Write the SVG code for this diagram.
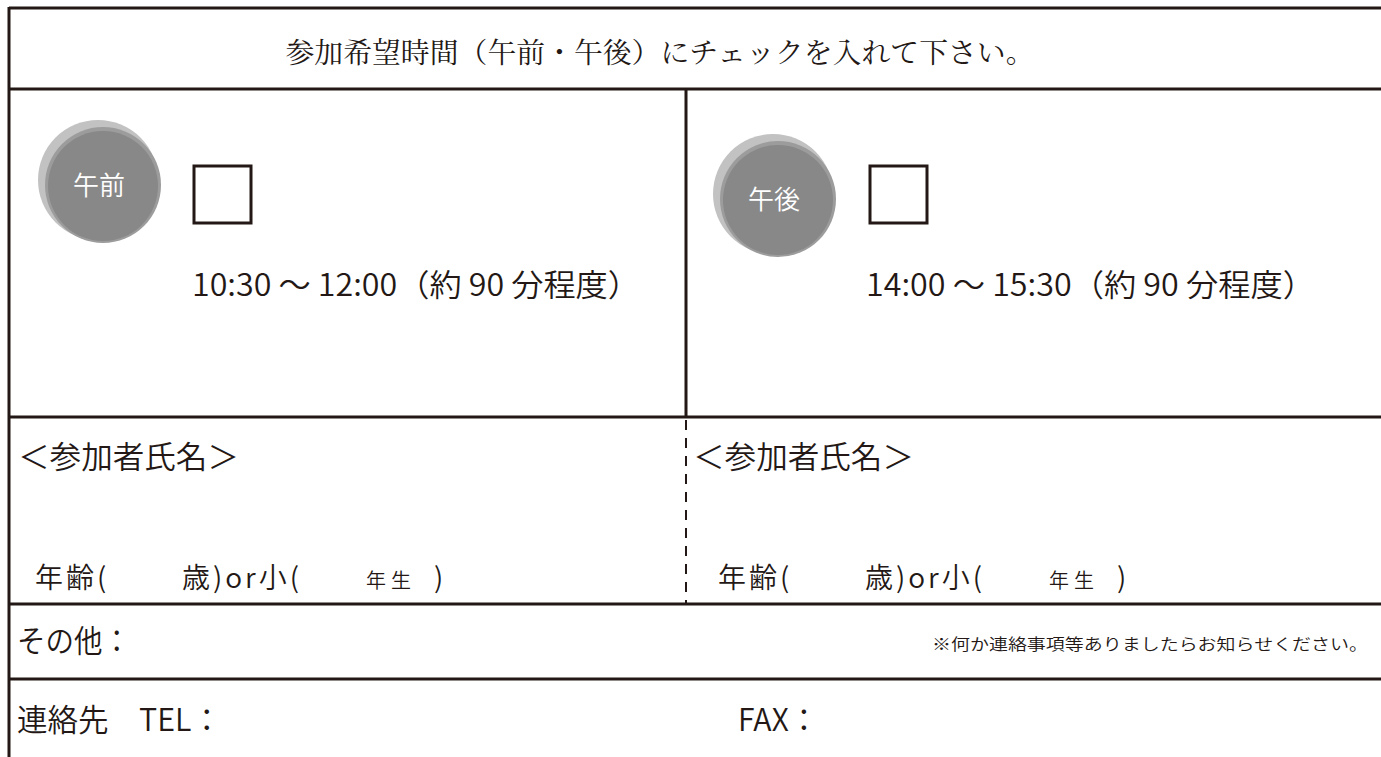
<svg xmlns="http://www.w3.org/2000/svg" width="1381" height="757" viewBox="0 0 1381 757">
<style>
.ln{stroke:#231815;stroke-width:3;fill:none}
.t{font-family:"Noto Sans CJK JP","Noto Sans",sans-serif;font-weight:350;fill:#231815}
.m{font-family:"Liberation Serif","Noto Serif CJK JP","Noto Sans CJK JP",serif;fill:#231815}
.cb{fill:#fff;stroke:#231815;stroke-width:3}
.lab{font-family:"Noto Sans CJK JP",sans-serif;font-weight:350;fill:#fff;font-size:26px;text-anchor:middle}
</style>
<rect width="1381" height="757" fill="#fff"/>
<g id="connectors">
<line class="ln" x1="9" y1="8" x2="1381" y2="8"/>
<line class="ln" x1="9" y1="7" x2="9" y2="757"/>
<line class="ln" x1="9" y1="89" x2="1381" y2="89"/>
<line class="ln" x1="9" y1="417" x2="1381" y2="417"/>
<line class="ln" x1="9" y1="604" x2="1381" y2="604"/>
<line class="ln" x1="9" y1="679" x2="1381" y2="679"/>
<line class="ln" x1="686" y1="89" x2="686" y2="417"/>
<line x1="686" y1="420" x2="686" y2="604" stroke="#231815" stroke-width="2" stroke-dasharray="10 8"/>
</g>
<g id="title"><text class="m" x="660" y="63" font-size="28" text-anchor="middle" textLength="749" lengthAdjust="spacingAndGlyphs">参加希望時間（午前・午後）にチェックを入れて下さい。</text></g>
<g id="am">
<circle cx="98" cy="180" r="60" fill="#c2c2c2"/>
<circle cx="103" cy="185" r="58" fill="#9c9c9c"/>
<circle cx="103" cy="186" r="55" fill="#888"/>
<text class="lab" x="99" y="195">午前</text>
<rect class="cb" x="194" y="166" width="57" height="57"/>
<text class="t" x="192" y="296" font-size="31" textLength="448" lengthAdjust="spacingAndGlyphs">10:30 ～ 12:00（約 90 分程度）</text>
</g>
<g id="pm">
<circle cx="773" cy="194" r="60" fill="#c2c2c2"/>
<circle cx="778" cy="199" r="58" fill="#9c9c9c"/>
<circle cx="778" cy="200" r="55" fill="#888"/>
<text class="lab" x="774" y="209">午後</text>
<rect class="cb" x="870" y="166" width="57" height="57"/>
<text class="t" x="866" y="296" font-size="31" textLength="449" lengthAdjust="spacingAndGlyphs">14:00 ～ 15:30（約 90 分程度）</text>
</g>
<g id="name-left">
<text class="t" x="18" y="468" font-size="31" textLength="221" lengthAdjust="spacingAndGlyphs">＜参加者氏名＞</text>
<text class="t" x="35" y="588" font-size="28" letter-spacing="3">年齢(</text>
<text class="t" x="182" y="588" font-size="28" letter-spacing="3">歳)or小(</text>
<text class="t" x="366" y="588" font-size="20" letter-spacing="5">年生</text>
<text class="t" x="434" y="588" font-size="28">)</text>
</g>
<g id="name-right">
<text class="t" x="693" y="468" font-size="31" textLength="221" lengthAdjust="spacingAndGlyphs">＜参加者氏名＞</text>
<text class="t" x="718" y="588" font-size="28" letter-spacing="3">年齢(</text>
<text class="t" x="865" y="588" font-size="28" letter-spacing="3">歳)or小(</text>
<text class="t" x="1049" y="588" font-size="20" letter-spacing="5">年生</text>
<text class="t" x="1117" y="588" font-size="28">)</text>
</g>
<g id="other">
<text class="t" x="17" y="652" font-size="31" textLength="114" lengthAdjust="spacingAndGlyphs">その他：</text>
<text class="t" x="932" y="650" font-size="16" textLength="436" lengthAdjust="spacingAndGlyphs">※何か連絡事項等ありましたらお知らせください。</text>
</g>
<g id="contact">
<text class="t" x="17" y="731" font-size="31" textLength="205" lengthAdjust="spacingAndGlyphs">連絡先　TEL：</text>
<text class="t" x="738" y="731" font-size="31" textLength="81" lengthAdjust="spacingAndGlyphs">FAX：</text>
</g>
</svg>
